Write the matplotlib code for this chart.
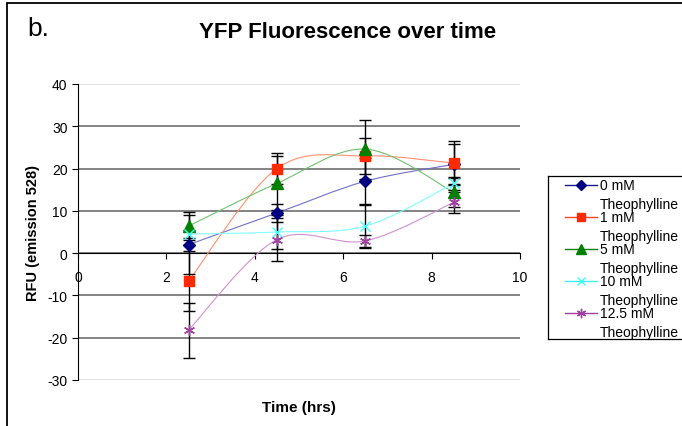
import matplotlib
matplotlib.use("Agg")
import matplotlib.pyplot as plt
import numpy as np
from matplotlib.path import Path
from matplotlib.patches import PathPatch, Rectangle

plt.rcParams['font.family'] = ['Liberation Sans', 'DejaVu Sans']
plt.rcParams['axes.unicode_minus'] = False

# data
times = [2.5, 4.5, 6.5, 8.5]
rfu_0 = [2.0, 9.5, 17.0, 21.0]
err_0 = [7.0, 2.1, 5.6, 4.7]
rfu_1 = [-6.6, 20.0, 23.0, 21.3]
err_1 = [7.1, 3.6, 4.3, 5.3]
rfu_5 = [6.4, 16.5, 24.6, 14.4]
err_5 = [3.3, 6.4, 7.0, 3.4]
rfu_10 = [4.5, 5.0, 6.4, 16.5]
err_10 = [1.0, 4.0, 5.2, 1.5]
rfu_12 = [-18.2, 3.2, 2.9, 12.0]
err_12 = [6.5, 5.0, 1.5, 2.4]

labels = ["0 mM\nTheophylline", "1 mM\nTheophylline", "5 mM\nTheophylline",
          "10 mM\nTheophylline", "12.5 mM\nTheophylline"]
y_ticks = [-30, -20, -10, 0, 10, 20, 30, 40]
x_ticks = [0, 2, 4, 6, 8, 10]

series = [
    (rfu_0, err_0, dict(marker='D', color='#000080', ms=6.5), '#7070c8', '#1a1a90'),
    (rfu_1, err_1, dict(marker='s', color='#ff2a00', ms=7.5), '#ff9070', '#ff4020'),
    (rfu_5, err_5, dict(marker='^', color='#008000', ms=8), '#70c070', '#108010'),
    (rfu_10, err_10, dict(marker='x', color='#40ffff', ms=7, mew=1.0), '#80ffff', '#40f0f0'),
    (rfu_12, err_12, dict(marker=(6, 2, 0), color='#a040a0', ms=8, mew=1.0), '#d090d0', '#a040a0'),
]


def smooth_path(xs, ys):
    # excel-like smoothed line: cubic bezier through the points
    pts = np.column_stack([xs, ys]).astype(float)
    n = len(pts)
    verts = [pts[0]]
    codes = [Path.MOVETO]
    for i in range(n - 1):
        p_prev = pts[max(i - 1, 0)]
        p0 = pts[i]
        p1 = pts[i + 1]
        p_next = pts[min(i + 2, n - 1)]
        c1 = p0 + (p1 - p_prev) / 6.0
        c2 = p1 - (p_next - p0) / 6.0
        verts += [c1, c2, p1]
        codes += [Path.CURVE4] * 3
    return Path(verts, codes)


fig = plt.figure(figsize=(6.82, 4.27), dpi=100)
ax = fig.add_axes([78 / 682, 1 - 381 / 427, (520 - 78) / 682, (381 - 85) / 427])

for vals, errs, mk, line_c, leg_c in series:
    ax.add_patch(PathPatch(smooth_path(times, vals), fill=False,
                           edgecolor=line_c, lw=0.8, zorder=3))
    ax.errorbar(times, vals, yerr=errs, fmt='none', ecolor='black',
                elinewidth=1.0, capsize=4, capthick=1.0, zorder=4)
    ax.plot(times, vals, linestyle='none', zorder=5, **mk)

ax.set_xlim(0, 10)
ax.set_ylim(-30, 40)
ax.set_xticks(x_ticks)
ax.set_yticks(y_ticks)
ax.tick_params(labelsize=10, length=4, width=0.8, direction='out')
ax.spines['top'].set_visible(False)
ax.spines['right'].set_visible(False)
ax.spines['bottom'].set_position(('data', 0))
ax.spines['bottom'].set_linewidth(0.8)
ax.spines['left'].set_linewidth(0.8)
ax.grid(axis='y', color='#7a7a7a', lw=1.3)
ax.set_axisbelow(True)
gls = ax.get_ygridlines()
gls[0].set_color('#dcdcdc')
gls[-1].set_color('#dcdcdc')
ax.xaxis.set_tick_params(pad=8)

ax.set_ylabel("RFU (emission 528)", fontsize=10.5, fontweight='bold', labelpad=5.5)
fig.text(299 / 682, 1 - 408 / 427, "Time (hrs)", fontsize=11, fontweight='bold',
         ha='center', va='center')
fig.text(348 / 682, 1 - 33 / 427, "YFP Fluorescence over time", fontsize=16,
         fontweight='bold', ha='center', va='center')
fig.text(27 / 682, 1 - 29 / 427, "b.", fontsize=19, ha='left', va='center')

# outer frame, cut by the right and bottom edges
fig.add_artist(Rectangle((7 / 682, -0.5), 2.0, 0.5 + 1 - 4 / 427, transform=fig.transFigure,
                         fill=False, edgecolor='black', lw=1.3))

# legend box, also running past the right edge
lax = fig.add_axes([548 / 682, 1 - 340 / 427, (720 - 548) / 682, (340 - 177) / 427])
lax.set_xlim(548, 720)
lax.set_ylim(340, 177)
lax.set_xticks([])
lax.set_yticks([])
for sp in lax.spines.values():
    sp.set_linewidth(0.9)
for i, (vals, errs, mk, line_c, leg_c) in enumerate(series):
    y = 186 + i * 32
    lax.plot([565, 597], [y, y], color=leg_c, lw=1.0)
    small = dict(mk)
    small['ms'] = mk['ms'] * 0.85
    lax.plot([581], [y], linestyle='none', **small)
    lax.text(600, y - 7, labels[i], fontsize=10, ha='left', va='top',
             linespacing=1.5)

fig.savefig("out.png", dpi=100)
